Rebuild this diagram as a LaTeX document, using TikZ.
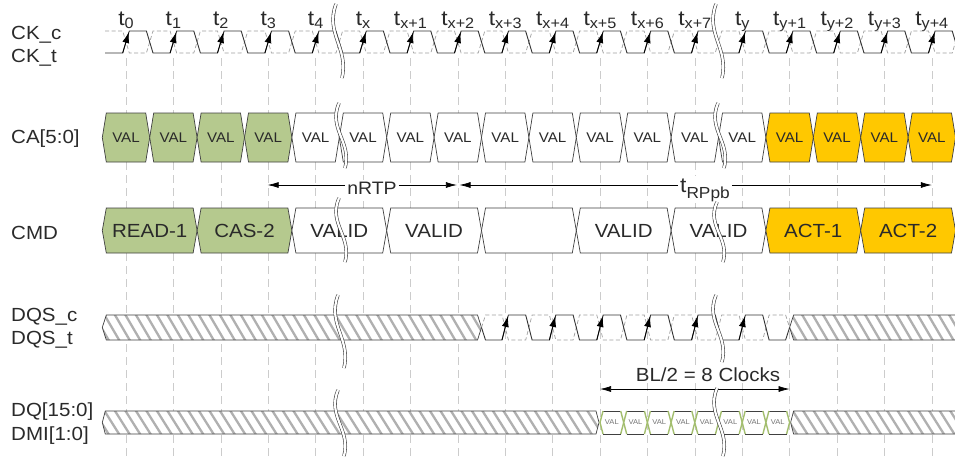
\documentclass[tikz,border=0pt]{standalone}
\usepackage{fontspec}
\setmainfont{Liberation Sans}[FakeStretch=1.08]
\usetikzlibrary{arrows.meta}
\definecolor{valgreen}{HTML}{B5C98E}
\definecolor{gline}{HTML}{A3BE6E}
\definecolor{actyellow}{HTML}{FFC800}
\definecolor{outl}{HTML}{404040}
\definecolor{txt}{HTML}{2A2A2A}
\newcommand\tT[1]{t\raisebox{-3pt}{\fontsize{15}{15}\selectfont #1}}
\newcommand\hexbox[6]{\path[#6] (#1,{(#3+#4)/2}) -- ({#1+#5},#3) -- ({#2-#5},#3) -- (#2,{(#3+#4)/2}) -- ({#2-#5},#4) -- ({#1+#5},#4) -- cycle;}
\newcommand\hatchbar[5]{%
  \begin{scope}
    \clip (#1,{(#3+#4)/2}) -- ({#1+#5},#3) -- ({#2-#5},#3) -- (#2,{(#3+#4)/2}) -- ({#2-#5},#4) -- ({#1+#5},#4) -- cycle;
    \fill[white] (#1,#3) rectangle (#2,#4);
    \foreach \k in {0,...,52}{
      \pgfmathsetmacro\hx{#1-20+10.5*\k}
      \draw[hatchl] (\hx,{#3-2}) -- ({\hx+17},{#4+2});
    }
  \end{scope}
  \hexbox{#1}{#2}{#3}{#4}{#5}{box}}
\newcommand\brk[3]{\draw[brk] (#1,#2) .. controls ({#1-11},{#2+0.4*(#3-#2)}) and ({#1+13},{#3-0.4*(#3-#2)}) .. ({#1+6},#3);}
\begin{document}
\begin{tikzpicture}[x=1pt,y=-1pt,
  wave/.style={draw=black!80, line width=0.9pt},
  wavec/.style={draw=gray!75, line width=0.7pt, dash pattern=on 4pt off 2.5pt},
  gridl/.style={draw=gray!40, line width=0.6pt, dash pattern=on 8pt off 5pt},
  box/.style={draw=outl, line width=0.7pt},
  hatchl/.style={draw=gray!62, line width=2.3pt},
  brk/.style={draw=outl, line width=0.6pt, double=white, double distance=2.2pt},
  rise/.style={-{Latex[length=11pt,width=7pt]}, line width=0.8pt, draw=black},
  dim/.style={-{Latex[length=11pt,width=6pt]}, line width=0.7pt, draw=black},
  lbl/.style={font=\fontsize{19}{19}\selectfont, text=txt, inner sep=0pt, anchor=base west},
  tick/.style={font=\fontsize{21}{21}\selectfont, text=txt, inner sep=0pt, anchor=base},
  val/.style={font=\fontsize{14}{14}\selectfont, text=txt, inner sep=0pt},
  cmdt/.style={font=\fontsize{19}{19}\selectfont, text=txt, inner sep=0pt},
  tinyval/.style={font=\fontsize{7}{7}\selectfont, text=gray!90!black, inner sep=0pt},
  dimlbl/.style={font=\fontsize{18}{18}\selectfont, text=txt, fill=white, inner sep=2pt}]
\useasboundingbox (0,0) rectangle (955,456);
\clip (0,0) rectangle (955,456);
\fill[white] (0,0) rectangle (955,456);

% grid lines
\foreach \i in {0,...,17}{
  \draw[gridl] ({126+47.4*\i},58) -- ({126+47.4*\i},456);
}

% signal names
\node[lbl] (ckc) at (11,39) {CK\_c};
\node[lbl] (ckt) at (11,62) {CK\_t};
\node[lbl] (ca) at (11,143) {CA[5:0]};
\node[lbl] (cmd) at (11,239) {CMD};
\node[lbl] (dqsc) at (11,321) {DQS\_c};
\node[lbl] (dqst) at (11,344) {DQS\_t};
\node[lbl] (dq) at (11,416) {DQ[15:0]};
\node[lbl] (dmi) at (11,440) {DMI[1:0]};

% tick labels
\foreach \i/\s in {0/0,1/1,2/2,3/3,4/4,5/x,6/x+1,7/x+2,8/x+3,9/x+4,10/x+5,11/x+6,12/x+7,13/y,14/y+1,15/y+2,16/y+3,17/y+4}{
  \node[tick] (tk\i) at ({126+47.4*\i},25) {\tT{\s}};
}

% clocks
\draw[wavec] (105,31) \foreach \i in {0,...,17}{ -- ({126+47.4*\i-3.3},31) -- ({126+47.4*\i+3.3},53) -- ({149.7+47.4*\i-3.3},53) -- ({149.7+47.4*\i+3.3},31) };
\draw[wave] (105,53) \foreach \i in {0,...,17}{ -- ({126+47.4*\i-3.3},53) -- ({126+47.4*\i+3.3},31) -- ({149.7+47.4*\i-3.3},31) -- ({149.7+47.4*\i+3.3},53) };
\foreach \i in {0,...,17}{
  \draw[rise] ({126+47.4*\i-3.3},53) -- ({126+47.4*\i+2.9},32);
}

% CA row
\foreach \i in {0,...,17}{
  \pgfmathsetmacro\tc{126+47.4*\i}
  \pgfmathsetmacro\xa{\tc-23.7}
  \pgfmathsetmacro\xb{\tc+23.7}
  \ifnum\i<4 \def\fc{valgreen}\else\ifnum\i>13 \def\fc{actyellow}\else\def\fc{white}\fi\fi
  \hexbox{\xa}{\xb}{113}{162}{4}{box,fill=\fc}
  \node[val] (ca\i) at (\tc,137.5) {VAL};
}

% CMD row
\foreach \j/\lab/\fc in {0/READ-1/valgreen,1/CAS-2/valgreen,2/VALID/white,3/VALID/white,4/{}/white,5/VALID/white,6/VALID/white,7/ACT-1/actyellow,8/ACT-2/actyellow}{
  \pgfmathsetmacro\xa{126+47.4*2*\j-23.7}
  \pgfmathsetmacro\xb{\xa+94.8}
  \pgfmathsetmacro\xm{\xa+47.4}
  \hexbox{\xa}{\xb}{208}{253}{4}{box,fill=\fc}
  \node[cmdt] (cmd\j) at (\xm,230.5) {\lab};
}

% nRTP and tRPpb
\coordinate (nrtpL) at (267.6,185);
\coordinate (nrtpR) at (456.9,185);
\node[dimlbl, anchor=base] (nrtp) at (372,194) {nRTP};
\draw[dim] (nrtpL -| nrtp.west) -- (nrtpL);
\draw[dim] (nrtpR -| nrtp.east) -- (nrtpR);
\coordinate (trpL) at (459.5,185);
\coordinate (trpR) at (931.8,185);
\node[dimlbl, anchor=base west, font=\fontsize{21}{21}\selectfont] (trp) at (678,192) {t\raisebox{-6pt}{\fontsize{16}{16}\selectfont RPpb}};
\draw[dim] (trpL -| trp.west) -- (trpL);
\draw[dim] (trpR -| trp.east) -- (trpR);

% DQS row
\hatchbar{102.3}{481.5}{315}{340}{4}
\hatchbar{789.6}{970}{315}{340}{4}
\draw[wavec] (481.5,327.5) -- (485.5,315) \foreach \i in {8,...,13}{ -- ({126+47.4*\i-3.2},315) -- ({126+47.4*\i+3.2},340) -- ({149.7+47.4*\i-3.2},340) -- ({149.7+47.4*\i+3.2},315) } -- (785.6,315) -- (789.6,327.5);
\draw[wave] (481.5,327.5) -- (485.5,340) \foreach \i in {8,...,13}{ -- ({126+47.4*\i-3.2},340) -- ({126+47.4*\i+3.2},315) -- ({149.7+47.4*\i-3.2},315) -- ({149.7+47.4*\i+3.2},340) } -- (785.6,340) -- (789.6,327.5);
\foreach \i in {8,...,13}{
  \draw[rise] ({126+47.4*\i-3.2},340) -- ({126+47.4*\i+2.8},316);
}

% DQ row
\hatchbar{102.3}{599}{411}{434}{3}
\hatchbar{790.6}{970}{411}{434}{3}
\foreach \k in {0,...,7}{
  \pgfmathsetmacro\xa{600+23.7*\k}
  \pgfmathsetmacro\xb{\xa+23.7}
  \pgfmathsetmacro\xm{\xa+11.85}
  \hexbox{\xa}{\xb}{411}{434}{3}{fill=white}
  \draw[outl, line width=0.7pt] ({\xa+3},411) -- ({\xb-3},411) ({\xa+3},434) -- ({\xb-3},434);
  \draw[gline, line width=1.4pt] ({\xa+3},411) -- (\xa,422.5) -- ({\xa+3},434) ({\xb-3},411) -- (\xb,422.5) -- ({\xb-3},434);
  \node[tinyval] (dq\k) at (\xm,422.5) {VAL};
}
\coordinate (blL) at (600,389);
\coordinate (blR) at (789.6,389);
\draw[{Latex[length=11pt,width=6pt]}-{Latex[length=11pt,width=6pt]}, line width=0.7pt] (blL) -- (blR);
\node[font=\fontsize{19}{19}\selectfont, text=txt, fill=white, inner sep=1pt, anchor=base] (bl) at (708,381) {BL/2 = 8 Clocks};

% breaks
\brk{336}{4}{78}
\brk{716}{4}{78}
\brk{339}{103}{168}
\brk{718}{103}{168}
\brk{339}{198}{262}
\brk{717}{202}{262}
\brk{338}{295}{368}
\brk{716}{295}{362}
\brk{338}{390}{456}
\brk{717}{388}{456}
\end{tikzpicture}
\end{document}
